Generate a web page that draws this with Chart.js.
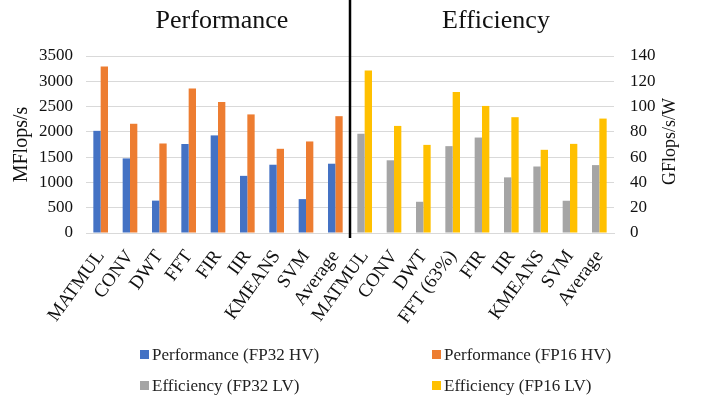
<!DOCTYPE html>
<html lang="en">
<head>
    <meta charset="UTF-8">
    <title>Performance and Efficiency</title>
    <style>
        html, body {
            margin: 0;
            background: #ffffff;
        }
        .wrap {
            position: relative;
            width: 702px;
            height: 403px;
        }
        .legend-item {
            position: absolute;
            font-family: "Liberation Serif", "Times New Roman", serif;
            font-size: 17px;
            color: #222;
            line-height: 20px;
            white-space: nowrap;
        }
        .legend-item span {
            display: inline-block;
            width: 9px;
            height: 9px;
            margin-right: 3px;
            vertical-align: 1px;
        }
    </style>
</head>
<body>
<div class="wrap">
    <canvas id="chart" width="702" height="403"></canvas>
    <div id="legend"></div>
</div>

<script src="https://cdn.jsdelivr.net/npm/chart.js"></script>
<script>
    // categories: first half is performance, second half efficiency
    const perfLabels = ['MATMUL', 'CONV', 'DWT', 'FFT', 'FIR', 'IIR', 'KMEANS', 'SVM', 'Average'];
    const effLabels = ['MATMUL', 'CONV', 'DWT', 'FFT (63%)', 'FIR', 'IIR', 'KMEANS', 'SVM', 'Average'];

    // MFlops/s
    const perfFP32 = [2020, 1475, 640, 1760, 1930, 1130, 1350, 670, 1370];
    const perfFP16 = [3290, 2160, 1770, 2855, 2590, 2345, 1665, 1810, 2310];

    // GFlops/s/W
    const effFP32 = [78.5, 57.5, 24.7, 68.7, 75.5, 44, 52.6, 25.5, 53.7];
    const effFP16 = [128.5, 84.7, 69.7, 111.6, 100.5, 91.6, 65.8, 70.5, 90.5];

    const seriesNames = ['Performance (FP32 HV)', 'Performance (FP16 HV)', 'Efficiency (FP32 LV)', 'Efficiency (FP16 LV)'];
    const colors = ['#4472C4', '#ED7D31', '#A5A5A5', '#FFC000'];

    const leftTicks = { min: 0, max: 3500, step: 500 };
    const rightTicks = { min: 0, max: 140, step: 20 };

    const labels = perfLabels.concat(effLabels);
    const blanks = perfLabels.map(() => null);

    const serif = 'Liberation Serif';

    // headings above each half, the black divider and the right axis title
    const sectionPlugin = {
        id: 'sections',
        afterDraw(chart) {
            const ctx = chart.ctx;
            const x = chart.scales.x;
            const area = chart.chartArea;
            const mid = (x.getPixelForValue(8) + x.getPixelForValue(9)) / 2;
            ctx.save();
            ctx.strokeStyle = '#000';
            ctx.lineWidth = 2.5;
            ctx.beginPath();
            ctx.moveTo(mid, 0);
            ctx.lineTo(mid, 238);
            ctx.stroke();
            ctx.fillStyle = '#111';
            ctx.font = '26px "' + serif + '"';
            ctx.textAlign = 'center';
            ctx.textBaseline = 'alphabetic';
            ctx.fillText('Performance', 222, 28);
            ctx.fillText('Efficiency', 496, 28);

            // right title reads bottom to top like the left one
            ctx.translate(670, (area.top + area.bottom) / 2 - 3);
            ctx.rotate(-Math.PI / 2);
            ctx.font = '18px "' + serif + '"';
            ctx.textBaseline = 'middle';
            ctx.fillText('GFlops/s/W', 0, 0);
            ctx.restore();
        }
    };

    const plainTick = v => String(v);

    const ctx = document.getElementById('chart').getContext('2d');
    const chart = new Chart(ctx, {
        type: 'bar',
        data: {
            labels: labels,
            datasets: [
                { label: seriesNames[0], data: perfFP32.concat(blanks), backgroundColor: colors[0], yAxisID: 'y' },
                { label: seriesNames[1], data: perfFP16.concat(blanks), backgroundColor: colors[1], yAxisID: 'y' },
                { label: seriesNames[2], data: blanks.concat(effFP32), backgroundColor: colors[2], yAxisID: 'y1' },
                { label: seriesNames[3], data: blanks.concat(effFP16), backgroundColor: colors[3], yAxisID: 'y1' }
            ]
        },
        options: {
            responsive: false,
            animation: false,
            skipNull: true,
            categoryPercentage: 0.5,
            barPercentage: 1.0,
            layout: { padding: { top: 56, left: 0, right: 0, bottom: 0 } },
            plugins: {
                legend: { display: false },
                tooltip: { enabled: false }
            },
            scales: {
                x: {
                    grid: { display: false },
                    border: { color: '#d9d9d9' },
                    ticks: {
                        color: '#111',
                        font: { family: serif, size: 19 },
                        minRotation: 54,
                        maxRotation: 54,
                        autoSkip: false,
                        padding: 5
                    },
                    afterFit(scale) { scale.height = 170; }
                },
                y: {
                    position: 'left',
                    min: leftTicks.min,
                    max: leftTicks.max,
                    border: { display: false },
                    grid: { color: '#d9d9d9', drawTicks: false },
                    ticks: {
                        stepSize: leftTicks.step,
                        callback: plainTick,
                        color: '#111',
                        font: { family: serif, size: 17 },
                        padding: 13
                    },
                    title: {
                        display: true,
                        text: 'MFlops/s',
                        color: '#111',
                        font: { family: serif, size: 20 },
                        padding: { top: 10, bottom: 0 }
                    },
                    afterFit(scale) { scale.width = 86; }
                },
                y1: {
                    position: 'right',
                    min: rightTicks.min,
                    max: rightTicks.max,
                    border: { display: false },
                    grid: { drawOnChartArea: false, drawTicks: false },
                    ticks: {
                        stepSize: rightTicks.step,
                        callback: plainTick,
                        color: '#111',
                        font: { family: serif, size: 17 },
                        padding: 16
                    },
                    afterFit(scale) { scale.width = 88; }
                }
            }
        },
        plugins: [sectionPlugin]
    });

    // two-column legend below the chart
    const legendPos = [[140, 345], [432, 345], [140, 376], [432, 376]];
    const legend = document.getElementById('legend');
    seriesNames.forEach(function (name, i) {
        const item = document.createElement('div');
        item.className = 'legend-item';
        item.style.left = legendPos[i][0] + 'px';
        item.style.top = legendPos[i][1] + 'px';
        item.innerHTML = '<span style="background:' + colors[i] + '"></span>' + name;
        legend.appendChild(item);
    });
</script>
</body>
</html>
